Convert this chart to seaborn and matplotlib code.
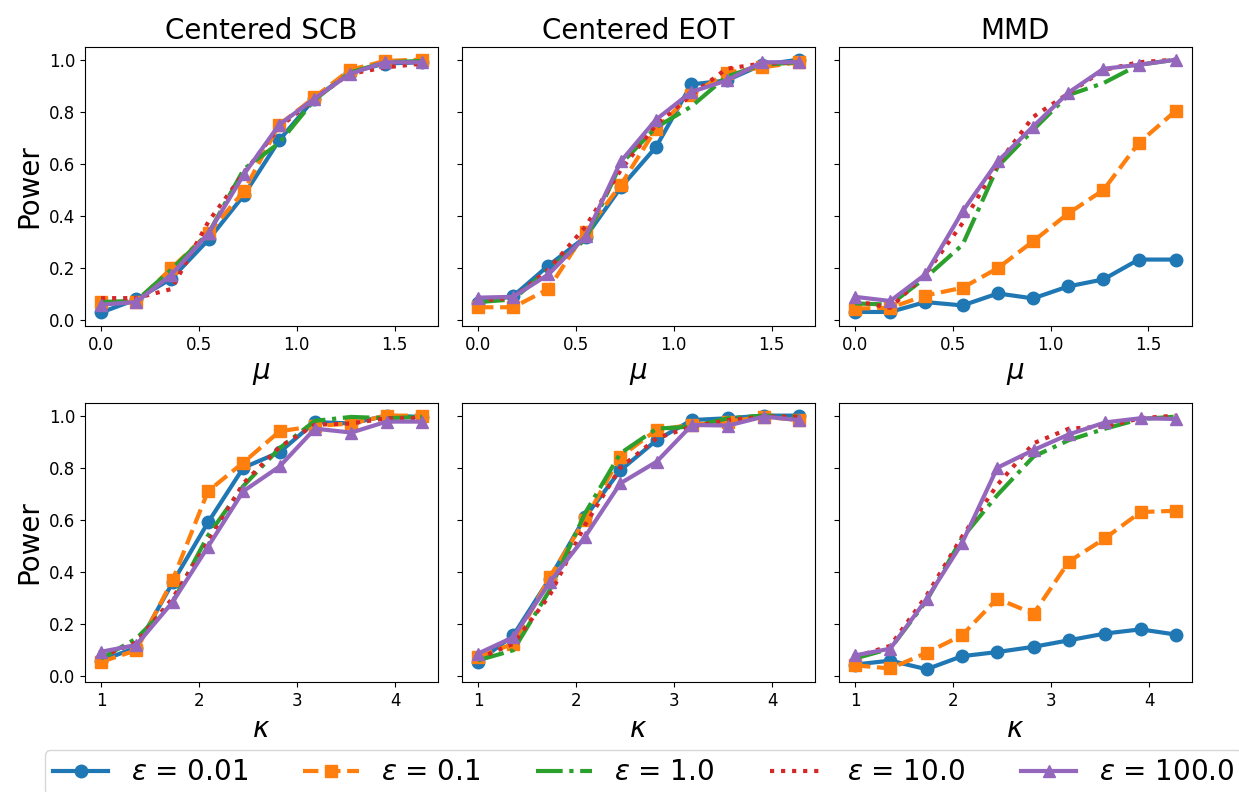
import numpy as np
import matplotlib
matplotlib.use("Agg")
import matplotlib.pyplot as plt
import seaborn as sns

# x grids
mu = [0.0, 0.18, 0.36, 0.55, 0.73, 0.91, 1.09, 1.27, 1.45, 1.64]
kappa = [1.0, 1.36, 1.73, 2.09, 2.45, 2.82, 3.18, 3.55, 3.91, 4.27]

eps_labels = ["0.01", "0.1", "1.0", "10.0", "100.0"]
titles = ["Centered SCB", "Centered EOT", "MMD"]

# power vs mu (rows = eps 0.01, 0.1, 1.0, 10.0, 100.0)
scb_mu = [
    [0.03, 0.08, 0.16, 0.31, 0.48, 0.69, 0.85, 0.95, 0.985, 0.99],
    [0.07, 0.07, 0.20, 0.335, 0.495, 0.75, 0.855, 0.96, 0.995, 1.0],
    [0.07, 0.075, 0.195, 0.335, 0.58, 0.68, 0.845, 0.95, 0.99, 0.995],
    [0.085, 0.085, 0.12, 0.38, 0.565, 0.74, 0.85, 0.945, 0.97, 0.985],
    [0.06, 0.07, 0.175, 0.335, 0.56, 0.75, 0.85, 0.945, 0.99, 0.99],
]
eot_mu = [
    [0.068, 0.093, 0.21, 0.32, 0.51, 0.665, 0.905, 0.92, 0.98, 1.0],
    [0.05, 0.05, 0.12, 0.34, 0.52, 0.735, 0.865, 0.95, 0.97, 0.99],
    [0.07, 0.08, 0.195, 0.31, 0.60, 0.74, 0.82, 0.935, 0.98, 0.99],
    [0.074, 0.087, 0.195, 0.36, 0.577, 0.75, 0.864, 0.965, 0.985, 0.99],
    [0.087, 0.09, 0.176, 0.322, 0.61, 0.77, 0.876, 0.92, 0.99, 0.99],
]
mmd_mu = [
    [0.032, 0.032, 0.07, 0.057, 0.103, 0.084, 0.13, 0.157, 0.233, 0.233],
    [0.045, 0.048, 0.095, 0.125, 0.20, 0.303, 0.41, 0.50, 0.68, 0.804],
    [0.065, 0.06, 0.163, 0.29, 0.59, 0.73, 0.864, 0.91, 0.98, 1.0],
    [0.074, 0.048, 0.176, 0.373, 0.60, 0.78, 0.87, 0.96, 0.99, 1.0],
    [0.09, 0.074, 0.176, 0.418, 0.61, 0.743, 0.873, 0.965, 0.98, 1.0],
]

# power vs kappa
scb_kappa = [
    [0.06, 0.11, 0.36, 0.59, 0.80, 0.86, 0.975, 0.97, 1.0, 0.995],
    [0.055, 0.10, 0.37, 0.71, 0.82, 0.94, 0.96, 0.97, 1.0, 1.0],
    [0.068, 0.145, 0.285, 0.54, 0.73, 0.875, 0.98, 0.995, 0.99, 0.995],
    [0.075, 0.13, 0.30, 0.515, 0.74, 0.88, 0.965, 0.97, 0.99, 0.99],
    [0.094, 0.12, 0.285, 0.497, 0.71, 0.805, 0.95, 0.935, 0.977, 0.977],
]
eot_kappa = [
    [0.055, 0.157, 0.375, 0.61, 0.79, 0.906, 0.983, 0.99, 1.0, 1.0],
    [0.074, 0.125, 0.38, 0.60, 0.842, 0.945, 0.965, 0.977, 0.996, 0.983],
    [0.061, 0.10, 0.33, 0.625, 0.855, 0.95, 0.958, 0.99, 1.0, 0.996],
    [0.068, 0.125, 0.31, 0.58, 0.80, 0.913, 0.958, 0.983, 0.996, 0.996],
    [0.087, 0.15, 0.36, 0.535, 0.74, 0.823, 0.964, 0.962, 0.996, 0.983],
]
mmd_kappa = [
    [0.045, 0.06, 0.027, 0.077, 0.093, 0.113, 0.138, 0.164, 0.18, 0.16],
    [0.042, 0.03, 0.09, 0.157, 0.298, 0.24, 0.44, 0.53, 0.63, 0.635],
    [0.068, 0.106, 0.29, 0.53, 0.695, 0.843, 0.906, 0.95, 0.987, 0.996],
    [0.074, 0.117, 0.31, 0.535, 0.734, 0.894, 0.95, 0.958, 0.99, 1.0],
    [0.08, 0.106, 0.296, 0.51, 0.80, 0.868, 0.928, 0.974, 0.99, 0.987],
]

colors = sns.color_palette("tab10", 5)
styles = ["-", "--", "-.", ":", "-"]
markers = ["o", "s", None, None, "^"]

fig, axes = plt.subplots(2, 3, figsize=(12.39, 7.92), dpi=100, sharey=True)
fig.subplots_adjust(left=0.0686, right=0.962, top=0.9407, bottom=0.139,
                    wspace=0.068, hspace=0.276)

rows = [(mu, [scb_mu, eot_mu, mmd_mu], r"$\mu$"),
        (kappa, [scb_kappa, eot_kappa, mmd_kappa], r"$\kappa$")]

for r, (xs, panels, xlabel) in enumerate(rows):
    for c, panel in enumerate(panels):
        ax = axes[r, c]
        for i, ys in enumerate(panel):
            kw = dict(color=colors[i], linestyle=styles[i], lw=3,
                      label=r"$\epsilon$ = " + eps_labels[i])
            if markers[i]:
                kw.update(marker=markers[i], ms=9, mec=colors[i], mew=1)
            sns.lineplot(x=xs, y=ys, ax=ax, **kw)
        if ax.get_legend():
            ax.get_legend().remove()
        ax.set_xlabel(xlabel, fontsize=20)
        ax.tick_params(labelsize=12)
        if c == 0:
            ax.set_ylabel("Power", fontsize=20)
        if r == 0:
            ax.set_title(titles[c], fontsize=20)

# legend sits along the bottom, running past the right edge like the original
handles, labels = axes[0, 0].get_legend_handles_labels()
fig.legend(handles, labels, loc="upper left", bbox_to_anchor=(0.036, 0.053),
           borderaxespad=0, borderpad=0.3, ncol=5, fontsize=20, frameon=True)

fig.savefig("out.png", dpi=100)
